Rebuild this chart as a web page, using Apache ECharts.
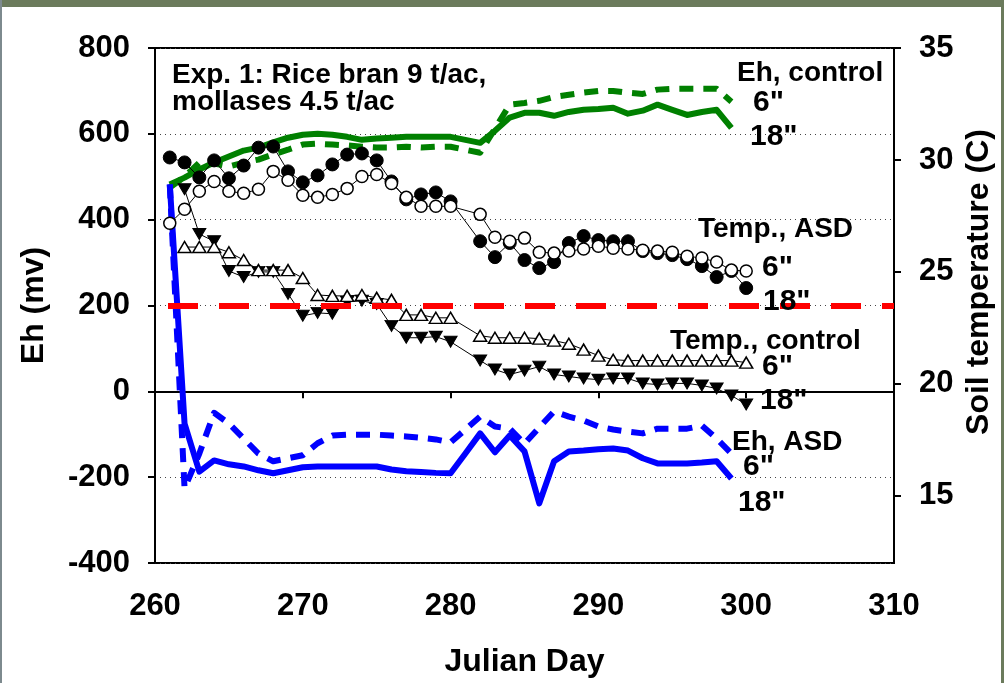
<!DOCTYPE html>
<html><head><meta charset="utf-8">
<script src="https://cdn.jsdelivr.net/npm/echarts@6/dist/echarts.min.js"></script>
<style>
html,body{margin:0;padding:0;background:#fff;}
#wrap{position:relative;width:1004px;height:683px;overflow:hidden;background:#fff;}
#chart{position:absolute;left:0;top:0;width:1004px;height:683px;}
.b{position:absolute;background:#6b7b5c;}
</style></head><body>
<div id="wrap"><div id="chart"></div>
<div class="b" style="left:0;top:0;width:1004px;height:7px"></div>
<div class="b" style="left:0;top:0;width:2px;height:683px;background:#7d8a8e"></div>
<div class="b" style="right:0;top:0;width:3px;height:683px"></div>
</div>
<script>
// ---- Data ----
const ehDays = [261,262,263,264,265,266,267,268,269,270,271,272,273,274,275,276,277,278,279,280,281,282,283,284,285,286,287,288,289,290,291,292,293,294,295,296,297,298,299];
const ehControl6 = [475,500,533,531,524,533,540,552,563,575,577,575,573,570,568,568,570,568,570,570,563,556,612,668,672,677,686,691,696,700,700,696,693,703,705,705,705,705,675];
const ehControl18 = [482,498,517,533,547,561,568,580,591,598,600,598,593,586,589,591,593,593,593,593,586,579,607,638,649,649,642,651,656,658,661,647,654,668,656,644,651,656,614];
const ehASD6 = [482,-226,-145,-50,-75,-110,-145,-163,-156,-149,-121,-103,-101,-101,-101,-103,-105,-108,-112,-119,-89,-59,-82,-87,-122,-84,-47,-59,-68,-82,-89,-94,-98,-87,-87,-87,-80,-110,-145];
const ehASD18 = [482,-75,-187,-161,-170,-175,-184,-191,-184,-177,-175,-175,-175,-175,-175,-182,-186,-188,-190,-191,-145,-98,-142,-103,-140,-261,-163,-140,-138,-135,-133,-138,-156,-168,-168,-168,-166,-163,-203];

const asdDays = [261,262,263,264,265,266,267,268,269,270,271,272,273,274,275,276,277,278,279,280,282,283,284,285,286,287,288,289,290,291,292,293,294,295,296,297,298,299,300];
const tempASD6 = [27.17,27.80,28.60,29.04,28.60,28.51,28.69,29.49,29.09,28.42,28.33,28.46,28.73,29.26,29.35,28.95,28.33,27.93,27.93,27.93,27.57,26.55,26.37,26.51,25.88,25.84,25.93,26.02,26.15,26.06,26.02,25.97,25.93,25.88,25.70,25.62,25.44,25.08,25.04];
const tempASD18 = [30.11,29.89,29.22,29.98,29.18,29.75,30.55,30.60,29.49,29.00,29.31,29.80,30.24,30.29,29.98,29.04,28.24,28.46,28.55,28.15,26.37,25.66,26.29,25.53,25.17,25.44,26.29,26.60,26.42,26.37,26.37,25.93,25.84,25.75,25.57,25.26,24.77,25.04,24.28];

const ctlDays = [262,263,264,265,266,267,268,269,270,271,272,273,274,275,276,277,278,279,280,282,283,284,285,286,287,288,289,290,291,292,293,294,295,296,297,298,299,300];
const tempControl6 = [26.11,26.11,26.11,25.88,25.53,25.08,25.08,25.08,24.73,23.97,23.93,23.93,23.97,23.84,23.75,23.08,23.08,22.95,22.95,22.15,22.06,22.06,22.06,22.02,21.93,21.79,21.53,21.26,21.08,21.04,21.04,21.04,21.04,21.04,21.04,21.04,21.04,20.95];
const tempControl18 = [28.69,26.69,26.37,25.04,24.77,25.00,25.00,24.02,23.04,23.17,23.13,23.66,23.71,23.57,22.59,22.06,22.06,22.11,21.88,21.04,20.64,20.42,20.59,20.77,20.42,20.33,20.24,20.19,20.24,20.24,20.02,19.97,20.02,20.02,19.93,19.79,19.48,19.08];

const thresholdEh = 200;
const xTicks = {min:260, max:310, interval:10};
const ehTicks = {min:-400, max:800, interval:200};
const tempRange = {min:12, max:35};
const tempLabels = [15,20,25,30,35];

// ---- Helpers ----
const zip = (xs, ys) => xs.map((x,i)=>[x, ys[i]]);
const FONT = '"Liberation Sans", Arial, sans-serif';

const chart = echarts.init(document.getElementById('chart'), null, {renderer:'canvas'});

function ehSeries(name, data, color, dashed, extra){
  return Object.assign({
    name, type:'line', yAxisIndex:0, data: zip(ehDays, data),
    symbol:'none', smooth:false, z:2,
    lineStyle:{color, width:6, type: dashed ? [14,10] : 'solid', cap:'butt', join:'round'},
    emphasis:{disabled:true}
  }, extra||{});
}
function tempSeries(name, days, data, symbol, open, rotate, size){
  return {
    name, type:'line', yAxisIndex:1, data: zip(days, data),
    symbol, symbolSize:size, symbolRotate: rotate||0, showAllSymbol:true,
    z:3,
    lineStyle:{color:'#000', width:1},
    itemStyle: open ? {color:'#fff', borderColor:'#000', borderWidth:1.5} : {color:'#000', borderColor:'#000', borderWidth:1},
    emphasis:{disabled:true}
  };
}

function txt(x, y, s, size, rot){
  return {type:'text', x, y, silent:true, z:100, rotation: rot||0,
    style:{text:s, font:'bold '+size+'px '+FONT, fill:'#000',
      align: rot ? 'center':'left', verticalAlign:'middle',
      textAlign: rot ? 'center':'left', textVerticalAlign:'middle'}};
}

const option = {
  animation:false,
  backgroundColor:'#fff',
  grid:{left:155, right:110, top:48, bottom:118, show:true, borderColor:'#000', borderWidth:2, backgroundColor:'transparent'},
  xAxis:{
    type:'value', min:xTicks.min, max:xTicks.max, interval:xTicks.interval,
    axisLine:{show:true, lineStyle:{color:'#000', width:2}},
    axisTick:{show:true, length:7, inside:false, lineStyle:{color:'#000', width:2}},
    axisLabel:{fontSize:31, fontWeight:'bold', fontFamily:FONT, color:'#000', margin:28},
    splitLine:{show:false},
    name:'Julian Day', nameLocation:'middle', nameGap:83,
    nameTextStyle:{fontSize:32, fontWeight:'bold', fontFamily:FONT, color:'#000'}
  },
  yAxis:[{
    type:'value', min:ehTicks.min, max:ehTicks.max, interval:ehTicks.interval,
    axisLine:{show:true, lineStyle:{color:'#000', width:2}},
    axisTick:{show:true, length:7, lineStyle:{color:'#000', width:2}},
    axisLabel:{fontSize:31, fontWeight:'bold', fontFamily:FONT, color:'#000', margin:25},
    splitLine:{show:true, lineStyle:{color:'#444', width:1, type:[1,4]}},
    name:'Eh (mv)', nameLocation:'middle', nameGap:105, nameRotate:90,
    nameTextStyle:{fontSize:32, fontWeight:'bold', fontFamily:FONT, color:'#000'}
  },{
    type:'value', min:tempRange.min, max:tempRange.max, position:'right',
    axisLine:{show:true, lineStyle:{color:'#000', width:2}},
    axisTick:{show:true, length:7, customValues:tempLabels, lineStyle:{color:'#000', width:2}},
    axisLabel:{fontSize:31, fontWeight:'bold', fontFamily:FONT, color:'#000', margin:25, customValues:tempLabels},
    splitLine:{show:false}
  }],
  series:[
    ehSeries('Eh, control 18"', ehControl18, '#008000', false, {
      markLine:{silent:true, symbol:['none','none'], label:{show:false}, emphasis:{disabled:true},
        lineStyle:{color:'#ff0000', width:6, type:[30,21], dashOffset:38},
        data:[{yAxis:thresholdEh}]}
    }),
    ehSeries('Eh, control 6"', ehControl6, '#008000', true),
    ehSeries('Eh, ASD 18"', ehASD18, '#0000ff', false),
    ehSeries('Eh, ASD 6"', ehASD6, '#0000ff', true),
    tempSeries('Temp., ASD 18"', asdDays, tempASD18, 'circle', false, 0, 13),
    tempSeries('Temp., ASD 6"', asdDays, tempASD6, 'circle', true, 0, 12),
    tempSeries('Temp., control 18"', ctlDays, tempControl18, 'triangle', false, 180, [13,11]),
    tempSeries('Temp., control 6"', ctlDays, tempControl6, 'triangle', true, 0, [13,11])
  ],
  graphic:[
    txt(979, 282, 'Soil temperature (C)', 32, Math.PI/2),
    txt(172, 75, 'Exp. 1: Rice bran 9 t/ac,', 28),
    txt(172, 102, 'mollases 4.5 t/ac', 28),
    txt(737, 73, 'Eh, control', 28),
    txt(753, 103, '6"', 30),
    txt(750, 137, '18"', 30),
    txt(698, 229, 'Temp., ASD', 28),
    txt(762, 268, '6"', 30),
    txt(763, 302, '18"', 30),
    txt(670, 341, 'Temp., control', 28),
    txt(762, 367, '6"', 30),
    txt(760, 401, '18"', 30),
    txt(732, 442, 'Eh, ASD', 28),
    txt(743, 467, '6"', 30),
    txt(738, 503, '18"', 30)
  ]
};
chart.setOption(option);
</script>
</body></html>
